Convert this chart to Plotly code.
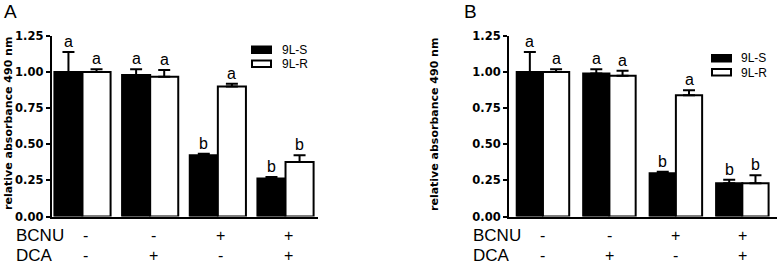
import plotly.graph_objects as go

W, H = 778, 265

groups = [0, 1, 2, 3]
bcnu = ["-", "-", "+", "+"]
dca = ["-", "+", "-", "+"]
series = ["9L-S", "9L-R"]

# Panel A
a_s = [1.00, 0.98, 0.425, 0.264]
a_s_err = [0.14, 0.04, 0.01, 0.01]
a_r = [1.00, 0.968, 0.90, 0.378]
a_r_err = [0.02, 0.047, 0.02, 0.047]
a_s_lbl = ["a", "a", "b", "b"]
a_r_lbl = ["a", "a", "a", "b"]

# Panel B
b_s = [1.00, 0.99, 0.30, 0.23]
b_s_err = [0.14, 0.03, 0.01, 0.025]
b_r = [1.00, 0.975, 0.84, 0.23]
b_r_err = [0.02, 0.035, 0.035, 0.055]
b_s_lbl = ["a", "a", "b", "b"]
b_r_lbl = ["a", "a", "a", "b"]

yticks = [0, 0.25, 0.5, 0.75, 1.0, 1.25]

def px(x):
    return x / W

def py(y):
    return 1 - y / H

fig = go.Figure()

TEXTFONT = dict(family="Liberation Sans, Arial", size=16, color="black")
BOLDFONT = dict(family="DejaVu Sans", size=11, color="black", weight="bold")

panels = [
    dict(s=a_s, se=a_s_err, r=a_r, re=a_r_err, sl=a_s_lbl, rl=a_r_lbl,
         xa="x", ya="y", xdom=[px(51.7), px(318)], xr=[-0.455, 3.48], w=0.415,
         letter="A", lx=2, title_x=8, lab_x=14, sign_shift=3,
         leg_x=252, leg_y=[46.5, 60.5], leg_tx=281, leg_ty=[49.8, 64]),
    dict(s=b_s, se=b_s_err, r=b_r, re=b_r_err, sl=b_s_lbl, rl=b_r_lbl,
         xa="x2", ya="y2", xdom=[px(509), px(776.5)], xr=[-0.511, 3.514], w=0.395,
         letter="B", lx=462, title_x=434, lab_x=471, sign_shift=0,
         leg_x=712, leg_y=[55, 69], leg_tx=740, leg_ty=[58.3, 72.7]),
]

annotations = []
shapes = []

for i, p in enumerate(panels):
    w = p["w"]
    for vals, errs, color, name, off, lbls in [
        (p["s"], p["se"], "black", series[0], -w, p["sl"]),
        (p["r"], p["re"], "white", series[1], 0.0, p["rl"]),
    ]:
        fig.add_trace(go.Bar(
            x=groups, y=vals, name=name, width=w, offset=off,
            marker=dict(color=color, line=dict(color="black", width=2)),
            error_y=dict(type="data", symmetric=False, array=errs,
                         arrayminus=[0] * len(errs), color="black",
                         thickness=2, width=6),
            xaxis=p["xa"], yaxis=p["ya"], showlegend=False, hoverinfo="skip",
        ))
        for g, v, e, t in zip(groups, vals, errs, lbls):
            annotations.append(dict(
                x=g + off + w / 2, y=v + e, xref=p["xa"], yref=p["ya"],
                text=t, showarrow=False, xanchor="center", yanchor="bottom",
                yshift=0, font=TEXTFONT))
    # condition rows
    for g, b, d in zip(groups, bcnu, dca):
        annotations.append(dict(x=g, y=py(235), xref=p["xa"], yref="paper",
                                text=b, showarrow=False, xshift=p["sign_shift"],
                                xanchor="center", yanchor="middle", font=TEXTFONT))
        annotations.append(dict(x=g, y=py(255), xref=p["xa"], yref="paper",
                                text=d, showarrow=False, xshift=p["sign_shift"],
                                xanchor="center", yanchor="middle", font=TEXTFONT))
    annotations.append(dict(x=px(p["lab_x"]), y=py(235), xref="paper", yref="paper",
                            text="BCNU", showarrow=False, xanchor="left", yanchor="middle",
                            font=dict(family="Liberation Sans, Arial", size=17, color="black")))
    annotations.append(dict(x=px(p["lab_x"]), y=py(255), xref="paper", yref="paper",
                            text="DCA", showarrow=False, xanchor="left", yanchor="middle",
                            font=dict(family="Liberation Sans, Arial", size=17, color="black")))
    # panel letter
    annotations.append(dict(x=px(p["lx"]), y=py(12), xref="paper", yref="paper",
                            text=p["letter"], showarrow=False, xanchor="left", yanchor="middle",
                            font=dict(family="Liberation Sans, Arial", size=19, color="black")))
    # y title
    annotations.append(dict(x=px(p["title_x"]), y=py(124), xref="paper", yref="paper",
                            text="relative absorbance 490 nm", showarrow=False,
                            xanchor="center", yanchor="middle",
                            textangle=-90, font=BOLDFONT))
    # legend
    for k, (nm, col) in enumerate(zip(series, ["black", "white"])):
        y0 = p["leg_y"][k]
        shapes.append(dict(type="rect", xref="paper", yref="paper",
                           x0=px(p["leg_x"]), x1=px(p["leg_x"] + 19),
                           y0=py(y0), y1=py(y0 + 6.5),
                           fillcolor=col, line=dict(color="black", width=2)))
        annotations.append(dict(x=px(p["leg_tx"]), y=py(p["leg_ty"][k]),
                                xref="paper", yref="paper", text=nm,
                                showarrow=False, xanchor="left", yanchor="middle",
                                borderpad=0,
                                font=dict(family="Liberation Sans, Arial", size=12, color="black")))

axis_common_y = dict(range=[0, 1.25], tickvals=yticks, tickformat=".2f",
                     showline=True, linecolor="black", linewidth=2,
                     ticks="outside", ticklen=4, tickwidth=2, tickcolor="black",
                     showgrid=False, zeroline=False, automargin=False,
                     tickfont=dict(family="DejaVu Sans", size=11.5, color="black", weight="bold"),
                     domain=[py(216.5), py(36)])
axis_common_x = dict(showline=True, linecolor="black", linewidth=2, automargin=False,
                     showticklabels=False, ticks="", showgrid=False, zeroline=False)

fig.update_layout(
    template="none",
    width=W, height=H, margin=dict(l=0, r=0, t=0, b=0, pad=0), autosize=False,
    paper_bgcolor="white", plot_bgcolor="white",
    xaxis=dict(domain=panels[0]["xdom"], range=panels[0]["xr"], anchor="y", **axis_common_x),
    yaxis=dict(anchor="x", **axis_common_y),
    xaxis2=dict(domain=panels[1]["xdom"], range=panels[1]["xr"], anchor="y2", **axis_common_x),
    yaxis2=dict(anchor="x2", **axis_common_y),
    annotations=annotations, shapes=shapes, showlegend=False,
)

fig.write_html(
    "out.html",
    config={"displayModeBar": False},
    post_script="document.body.style.margin='0';document.body.style.padding='0';"
                "document.body.style.overflow='hidden';",
)
